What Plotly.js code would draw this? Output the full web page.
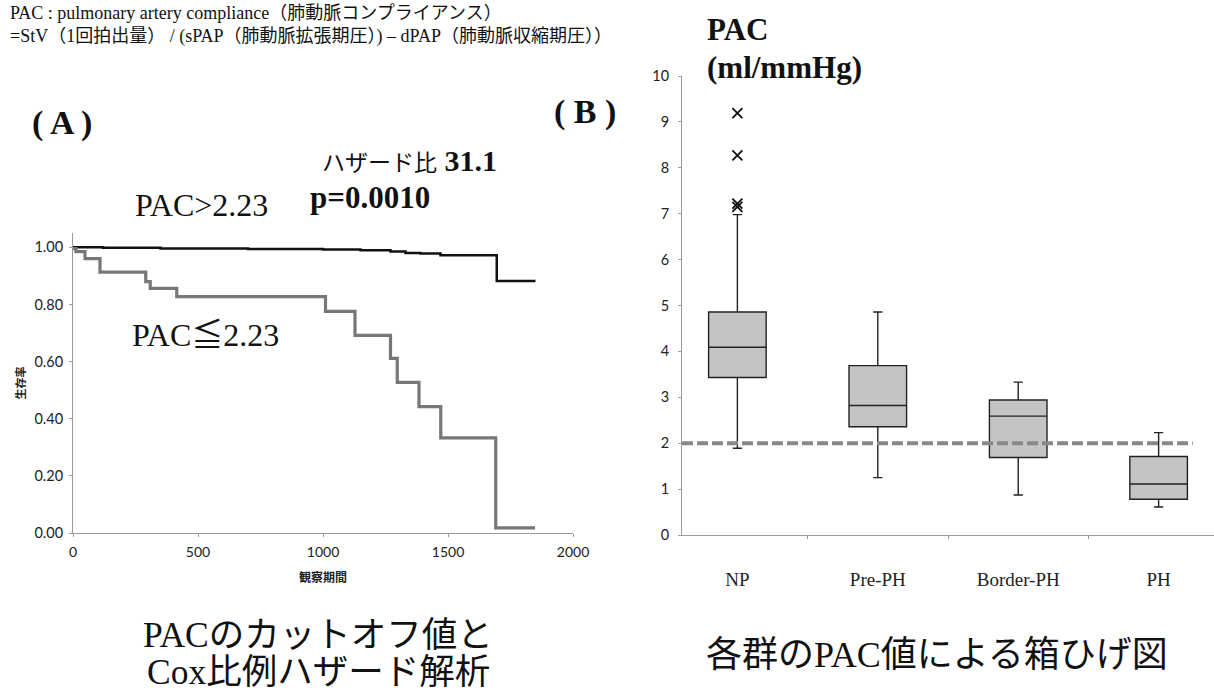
<!DOCTYPE html>
<html><head><meta charset="utf-8">
<script src="https://cdn.plot.ly/plotly-3.0.1.min.js"></script>
<style>html,body{margin:0;padding:0;background:#fff}#chart{width:1214px;height:694px}</style>
</head><body><div id="chart"></div>
<script>
// ---- Panel A: Kaplan-Meier survival (Cox analysis) ----
const kmTimeHigh = [0, 120, 350, 700, 1000, 1150, 1270, 1330, 1390, 1470, 1695, 1850];
const kmSurvHigh = [1.0, 0.998, 0.996, 0.994, 0.992, 0.99, 0.985, 0.98, 0.978, 0.972, 0.882, 0.882];
const kmTimeLow = [0, 12, 48, 108, 291, 309, 415, 1010, 1128, 1270, 1297, 1384, 1471, 1691, 1848];
const kmSurvLow = [0.995, 0.985, 0.96, 0.913, 0.88, 0.856, 0.827, 0.776, 0.692, 0.611, 0.527, 0.442, 0.333, 0.018, 0.018];
const kmXTicks = [0, 500, 1000, 1500, 2000];
const kmYTicks = [0, 0.2, 0.4, 0.6, 0.8, 1.0];

// ---- Panel B: box plot of PAC per group ----
const groups = ['NP', 'Pre-PH', 'Border-PH', 'PH'];
const q1 = [3.43, 2.36, 1.69, 0.78];
const medians = [4.09, 2.82, 2.59, 1.11];
const q3 = [4.86, 3.69, 2.94, 1.71];
const lowerWhisker = [1.89, 1.25, 0.87, 0.61];
const upperWhisker = [6.98, 4.86, 3.33, 2.23];
const outlierGroup = ['NP', 'NP', 'NP', 'NP'];
const outlierValues = [7.15, 7.22, 8.27, 9.19];
const cutoffPAC = 2;
const boxYTicks = [0, 1, 2, 3, 4, 5, 6, 7, 8, 9, 10];

const W = 1214, H = 694;
const px = v => v / W;
const py = v => 1 - v / H;
const SERIF = "'Liberation Serif', 'Noto Sans CJK JP', serif";
const SANS = "Lato, 'Noto Sans', sans-serif";
const CJK = "'Noto Sans CJK JP', sans-serif";

const traces = [
  {x: kmTimeHigh, y: kmSurvHigh, type: 'scatter', mode: 'lines', line: {shape: 'hv', color: '#111', width: 2.5}, xaxis: 'x', yaxis: 'y', showlegend: false, hoverinfo: 'skip'},
  {x: kmTimeLow, y: kmSurvLow, type: 'scatter', mode: 'lines', line: {shape: 'hv', color: '#777', width: 3.2}, xaxis: 'x', yaxis: 'y', showlegend: false, hoverinfo: 'skip'},
  {type: 'box', x: groups, q1: q1, median: medians, q3: q3, lowerfence: lowerWhisker, upperfence: upperWhisker,
   fillcolor: '#c4c4c4', line: {color: '#222', width: 1.4}, whiskerwidth: 0.16, width: 0.41, boxpoints: false,
   xaxis: 'x2', yaxis: 'y2', showlegend: false, hoverinfo: 'skip'},
  {x: outlierGroup, y: outlierValues, type: 'scatter', mode: 'markers', marker: {symbol: 'x-thin', size: 10, line: {color: '#111', width: 1.8}},
   xaxis: 'x2', yaxis: 'y2', showlegend: false, hoverinfo: 'skip'}
];

const axisCommon = {showline: true, linecolor: '#9a9a9a', linewidth: 1, ticks: 'outside', ticklen: 3, tickcolor: '#9a9a9a', showgrid: false, zeroline: false, fixedrange: true};

function note(text, x, y, size, anchor, family) {
  return {text: text, xref: 'paper', yref: 'paper', x: px(x), y: py(y), xanchor: anchor || 'left', yanchor: 'middle',
          showarrow: false, font: {family: family || SERIF, size: size, color: '#111'}};
}

const layout = {
  width: W, height: H,
  margin: {l: 0, r: 0, t: 0, b: 0},
  paper_bgcolor: '#fff', plot_bgcolor: 'rgba(0,0,0,0)',
  xaxis: Object.assign({}, axisCommon, {domain: [px(73), px(573)], range: [0, 2000], tickvals: kmXTicks, anchor: 'y',
    tickfont: {family: SANS, size: 14, color: '#222'}, ticklabelstandoff: 3,
    title: {text: '観察期間', font: {family: CJK, size: 12, color: '#222', weight: 'bold'}, standoff: 14}}),
  yaxis: Object.assign({}, axisCommon, {domain: [py(533), py(233)], range: [0, 1.05], tickvals: kmYTicks, tickformat: '.2f', anchor: 'x',
    tickfont: {family: SANS, size: 14.5, color: '#222'}, ticklabelstandoff: 3,
    title: {text: '生存率', font: {family: CJK, size: 11, color: '#222', weight: 'bold'}, standoff: 6}}),
  xaxis2: Object.assign({}, axisCommon, {domain: [px(682), px(1214)], type: 'category', anchor: 'y2', tickson: 'boundaries',
    tickfont: {family: SERIF, size: 19, color: '#222'}, ticklabelstandoff: 27}),
  yaxis2: Object.assign({}, axisCommon, {domain: [py(535), py(76)], range: [0, 10], tickvals: boxYTicks, anchor: 'x2',
    tickfont: {family: SANS, size: 14.5, color: '#222'}, ticklabelstandoff: 6}),
  shapes: [
    {type: 'line', xref: 'x2 domain', yref: 'y2', x0: 0, x1: 0.96, y0: cutoffPAC, y1: cutoffPAC,
     line: {color: '#888', width: 4, dash: '11px,4px'}, layer: 'above'}
  ],
  annotations: [
    note('PAC : pulmonary artery compliance（肺動脈コンプライアンス）', 8, 13, 18),
    note('=StV（1回拍出量） / (sPAP（肺動脈拡張期圧）) – dPAP（肺動脈収縮期圧））', 8, 36, 18),
    note('<b>( A )</b>', 62, 123, 34, 'center'),
    note('<b>( B )</b>', 585, 112, 34, 'center'),
    note('<span style="font-size:23px">ハザード比</span> <b>31.1</b>', 320, 160, 30),
    note('<b>p=0.0010</b>', 308, 197, 31),
    note('PAC>2.23', 133, 205, 32),
    note('PAC≦2.23', 130, 335, 32),
    note('<b>PAC</b>', 705, 30, 31),
    note('<b>(ml/mmHg)</b>', 705, 68, 31),
    note('PACのカットオフ値と', 318, 635, 35.5, 'center'),
    note('Cox比例ハザード解析', 318, 672, 35.5, 'center'),
    note('各群のPAC値による箱ひげ図', 937, 655, 36, 'center')
  ]
};

Plotly.newPlot('chart', traces, layout, {staticPlot: true, displayModeBar: false});
</script></body></html>
